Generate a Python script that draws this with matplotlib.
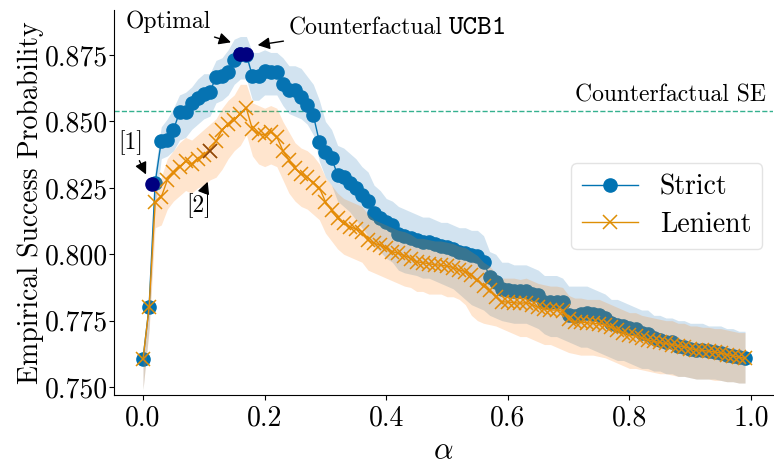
import numpy as np
import matplotlib
matplotlib.use("Agg")
import matplotlib.pyplot as plt

plt.rcParams['font.family'] = 'serif'
plt.rcParams['font.serif'] = ['cmr10']
plt.rcParams['mathtext.fontset'] = 'cm'
plt.rcParams['axes.formatter.use_mathtext'] = True
plt.rcParams['axes.unicode_minus'] = False

alpha = [i / 100 for i in range(100)]

strict = [0.7605, 0.7802, 0.8270, 0.8425, 0.8432, 0.8468, 0.8535, 0.8535, 0.8570, 0.8590,
          0.8605, 0.8610, 0.8668, 0.8672, 0.8685, 0.8730, 0.8756, 0.8752, 0.8670, 0.8670,
          0.8690, 0.8688, 0.8688, 0.8643, 0.8620, 0.8618, 0.8593, 0.8562, 0.8524, 0.8424,
          0.8386, 0.8361, 0.8300, 0.8290, 0.8270, 0.8250, 0.8225, 0.8200, 0.8155, 0.8135,
          0.8120, 0.8110, 0.8075, 0.8068, 0.8060, 0.8055, 0.8048, 0.8045, 0.8040, 0.8030,
          0.8028, 0.8020, 0.8009, 0.8005, 0.7998, 0.7995, 0.7972, 0.7915, 0.7896, 0.7870,
          0.7865, 0.7862, 0.7860, 0.7862, 0.7850, 0.7845, 0.7822, 0.7821, 0.7821, 0.7820,
          0.7771, 0.7768, 0.7775, 0.7778, 0.7775, 0.7771, 0.7760, 0.7740, 0.7735, 0.7730,
          0.7722, 0.7718, 0.7705, 0.7700, 0.7683, 0.7678, 0.7671, 0.7668, 0.7655, 0.7652,
          0.7645, 0.7640, 0.7640, 0.7635, 0.7633, 0.7628, 0.7622, 0.7618, 0.7612, 0.7608]

strict_lo = [0.749, 0.772, 0.818, 0.836, 0.837, 0.839, 0.843, 0.844, 0.847, 0.849,
             0.851, 0.852, 0.857, 0.858, 0.860, 0.864, 0.866, 0.866, 0.858, 0.858,
             0.860, 0.860, 0.860, 0.856, 0.853, 0.852, 0.851, 0.849, 0.845, 0.835,
             0.829, 0.826, 0.820, 0.818, 0.816, 0.813, 0.810, 0.807, 0.803, 0.801,
             0.7985, 0.797, 0.794, 0.793, 0.7925, 0.792, 0.791, 0.791, 0.790, 0.789,
             0.788, 0.787, 0.785, 0.783, 0.781, 0.780, 0.779, 0.777, 0.776, 0.775,
             0.7745, 0.774, 0.774, 0.774, 0.773, 0.772, 0.770, 0.769, 0.769, 0.768,
             0.767, 0.766, 0.765, 0.765, 0.764, 0.763, 0.762, 0.761, 0.760, 0.760,
             0.759, 0.758, 0.757, 0.757, 0.756, 0.756, 0.755, 0.755, 0.754, 0.754,
             0.7535, 0.753, 0.753, 0.753, 0.753, 0.7525, 0.752, 0.752, 0.7515, 0.7515]

strict_hi = [0.762, 0.784, 0.832, 0.848, 0.851, 0.855, 0.860, 0.861, 0.863, 0.866,
             0.868, 0.868, 0.873, 0.874, 0.877, 0.881, 0.882, 0.882, 0.876, 0.876,
             0.877, 0.876, 0.876, 0.874, 0.871, 0.871, 0.870, 0.867, 0.864, 0.858,
             0.850, 0.847, 0.841, 0.840, 0.838, 0.836, 0.833, 0.831, 0.826, 0.824,
             0.821, 0.820, 0.818, 0.817, 0.816, 0.815, 0.814, 0.814, 0.813, 0.812,
             0.812, 0.811, 0.810, 0.810, 0.809, 0.809, 0.807, 0.801, 0.800, 0.797,
             0.797, 0.796, 0.796, 0.796, 0.795, 0.794, 0.792, 0.792, 0.792, 0.791,
             0.788, 0.788, 0.788, 0.788, 0.787, 0.786, 0.785, 0.783, 0.783, 0.782,
             0.781, 0.780, 0.779, 0.779, 0.777, 0.777, 0.776, 0.776, 0.775, 0.775,
             0.774, 0.774, 0.774, 0.773, 0.773, 0.773, 0.772, 0.772, 0.771, 0.771]

lenient = [0.7605, 0.7800, 0.8195, 0.8215, 0.8280, 0.8310, 0.8330, 0.8350, 0.8340, 0.8360,
           0.8375, 0.8390, 0.8425, 0.8468, 0.8490, 0.8505, 0.8530, 0.8549, 0.8470, 0.8455,
           0.8449, 0.8460, 0.8443, 0.8390, 0.8355, 0.8323, 0.8304, 0.8290, 0.8270, 0.8250,
           0.8198, 0.8166, 0.8135, 0.8116, 0.8104, 0.8095, 0.8085, 0.8053, 0.8041, 0.8035,
           0.8022, 0.8010, 0.8003, 0.7995, 0.7984, 0.7972, 0.7968, 0.7965, 0.7960, 0.7959,
           0.7955, 0.7950, 0.7940, 0.7935, 0.7920, 0.7903, 0.7880, 0.7865, 0.7840, 0.7821,
           0.7820, 0.7818, 0.7815, 0.7818, 0.7810, 0.7800, 0.7795, 0.7790, 0.7790, 0.7785,
           0.7755, 0.7745, 0.7745, 0.7742, 0.7740, 0.7738, 0.7733, 0.7725, 0.7715, 0.7705,
           0.7695, 0.7692, 0.7685, 0.7677, 0.7672, 0.7668, 0.7664, 0.7660, 0.7655, 0.7652,
           0.7645, 0.7640, 0.7638, 0.7635, 0.7632, 0.7628, 0.7622, 0.7618, 0.7612, 0.7608]

lenient_lo = [0.749, 0.771, 0.810, 0.811, 0.817, 0.820, 0.822, 0.824, 0.823, 0.825,
              0.826, 0.828, 0.829, 0.832, 0.836, 0.839, 0.841, 0.845, 0.837, 0.834,
              0.833, 0.834, 0.833, 0.828, 0.823, 0.820, 0.818, 0.817, 0.815, 0.813,
              0.808, 0.805, 0.802, 0.800, 0.799, 0.798, 0.797, 0.794, 0.793, 0.792,
              0.791, 0.790, 0.789, 0.788, 0.7875, 0.786, 0.786, 0.785, 0.785, 0.785,
              0.784, 0.784, 0.783, 0.781, 0.777, 0.775, 0.774, 0.7735, 0.773, 0.772,
              0.771, 0.770, 0.769, 0.769, 0.768, 0.767, 0.766, 0.766, 0.765, 0.764,
              0.763, 0.7625, 0.762, 0.762, 0.762, 0.7615, 0.761, 0.760, 0.759, 0.758,
              0.757, 0.757, 0.7565, 0.756, 0.7555, 0.755, 0.755, 0.7545, 0.754, 0.754,
              0.7535, 0.753, 0.753, 0.753, 0.7525, 0.7525, 0.752, 0.752, 0.7515, 0.7515]

lenient_hi = [0.762, 0.784, 0.826, 0.829, 0.836, 0.839, 0.842, 0.844, 0.843, 0.845,
              0.847, 0.849, 0.851, 0.855, 0.858, 0.860, 0.864, 0.864, 0.857, 0.856,
              0.855, 0.856, 0.855, 0.850, 0.846, 0.842, 0.840, 0.839, 0.837, 0.834,
              0.829, 0.826, 0.823, 0.821, 0.820, 0.819, 0.818, 0.815, 0.813, 0.812,
              0.811, 0.810, 0.809, 0.8085, 0.8075, 0.806, 0.806, 0.8055, 0.805, 0.805,
              0.8045, 0.804, 0.803, 0.8025, 0.801, 0.7995, 0.797, 0.7955, 0.793, 0.791,
              0.791, 0.791, 0.7905, 0.791, 0.790, 0.789, 0.7885, 0.788, 0.788, 0.7875,
              0.7845, 0.7835, 0.7835, 0.783, 0.783, 0.783, 0.782, 0.781, 0.780, 0.779,
              0.778, 0.778, 0.777, 0.7765, 0.776, 0.7755, 0.775, 0.775, 0.774, 0.774,
              0.773, 0.773, 0.7725, 0.7725, 0.772, 0.772, 0.7715, 0.771, 0.7705, 0.7705]

# highlighted points
ref1_x, ref1_y = [0.015], [0.8265]
ref2_x, ref2_y = [0.11], [0.8390]
opt_x, opt_y = [0.16, 0.17], [0.8756, 0.8756]
se_level = 0.8539

blue = '#0173b2'
orange = '#de8f05'
green = '#029e73'
blue_fill = '#1f77b4'
orange_fill = '#ff7f0e'

fig = plt.figure(figsize=(7.74, 4.66), dpi=100)
ax = fig.add_axes([0.1473, 0.1524, 0.8514, 0.8262])

ax.plot(alpha, strict, color=blue, marker='o', markersize=9.5, lw=1, label='Strict', zorder=2)
ax.fill_between(alpha, strict_lo, strict_hi, color=blue_fill, alpha=0.2, lw=0, zorder=2)
ax.plot(alpha, lenient, color=orange, marker='x', markersize=9.5, markeredgewidth=1.1, lw=1,
        label='Lenient', zorder=2)
ax.fill_between(alpha, lenient_lo, lenient_hi, color=orange_fill, alpha=0.2, lw=0, zorder=2)

ax.axhline(se_level, color=green, lw=1, ls='--', alpha=0.8, zorder=1)

ax.plot(ref1_x, ref1_y, 'o', color='navy', markersize=9.5, zorder=4)
ax.plot(opt_x, opt_y, 'o', color='navy', markersize=9.5, zorder=4)
ax.plot(ref2_x, ref2_y, 'x', color='#8b4513', markersize=9.5, markeredgewidth=1.1, zorder=4)

arrow = dict(arrowstyle='-|>', color='black', lw=1.0, mutation_scale=18)
ax.annotate('Optimal', xy=(0.149, 0.8795), xytext=(0.041, 0.8874), fontsize=17,
            ha='center', va='center', arrowprops=arrow)
ax.annotate('Counterfactual', xy=(0.184, 0.8786), xytext=(0.24, 0.8828),
            fontsize=17, ha='left', va='baseline', arrowprops=arrow)
ax.text(0.503, 0.8828, 'UCB1', fontsize=20, family='cmtt10', ha='left', va='baseline')
ax.annotate('[1]', xy=(0.007, 0.8291), xytext=(-0.02, 0.8419), fontsize=17,
            ha='center', va='center', arrowprops=arrow)
ax.annotate('[2]', xy=(0.108, 0.8283), xytext=(0.092, 0.8185), fontsize=17,
            ha='center', va='center', arrowprops=arrow)
ax.text(1.024, 0.8555, 'Counterfactual SE', fontsize=17, ha='right', va='bottom')

ax.set_xlim(-0.0477, 1.036)
ax.set_ylim(0.747, 0.892)
ax.set_xticks([0.0, 0.2, 0.4, 0.6, 0.8, 1.0])
ax.set_yticks([0.750, 0.775, 0.800, 0.825, 0.850, 0.875])
ax.set_yticklabels(['0.750', '0.775', '0.800', '0.825', '0.850', '0.875'])
ax.set_xticklabels(['0.0', '0.2', '0.4', '0.6', '0.8', '1.0'])
ax.tick_params(labelsize=20)
ax.tick_params(axis='y', pad=0.5)
ax.set_xlabel(r'$\alpha$', fontsize=22, labelpad=5)
ax.set_ylabel('Empirical Success Probability', fontsize=20, labelpad=1)
for s in ['top', 'right']:
    ax.spines[s].set_visible(False)

ax.legend(loc='center right', bbox_to_anchor=(1.005, 0.49), fontsize=20,
          frameon=True, fancybox=True, edgecolor='#dddddd', handlelength=2.0,
          labelspacing=0.4)

fig.savefig('out.png', dpi=100)
